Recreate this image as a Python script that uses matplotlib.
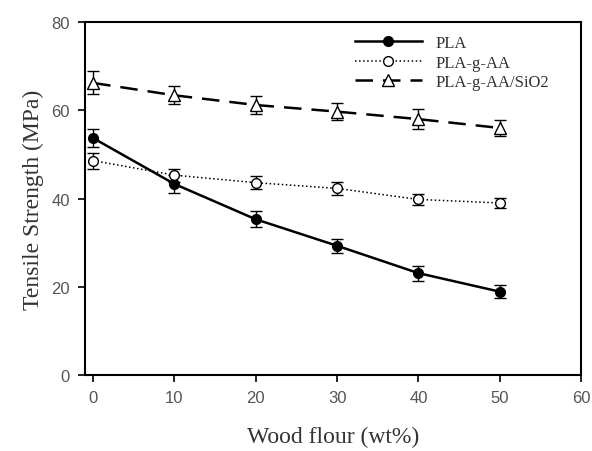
import matplotlib.pyplot as plt

plt.rcParams['font.family'] = 'Liberation Sans'

wood = [0, 10, 20, 30, 40, 50]
pla = [53.7, 43.3, 35.3, 29.3, 23.1, 18.9]
pla_err = [2.0, 2.0, 1.8, 1.6, 1.7, 1.5]
pla_aa = [48.6, 45.3, 43.6, 42.3, 39.8, 39.0]
pla_aa_err = [1.8, 1.5, 1.4, 1.5, 1.2, 1.2]
pla_si = [66.2, 63.4, 61.2, 59.7, 58.0, 56.0]
pla_si_err = [2.6, 2.0, 2.0, 2.0, 2.2, 1.8]

fig = plt.figure(figsize=(5.92, 4.52), dpi=100)
ax = fig.add_axes([0.1436, 0.168, 0.838, 0.781])

# error bars first, lines + markers on top (legend shows only lines)
for y, e in [(pla, pla_err), (pla_aa, pla_aa_err), (pla_si, pla_si_err)]:
    ax.errorbar(wood, y, yerr=e, fmt='none', ecolor='black', capsize=4, elinewidth=1)

ax.plot(wood, pla, '-o', color='black', lw=1.8, ms=7, mfc='black', label='PLA')
ax.plot(wood, pla_aa, ':o', color='black', lw=1.1, ms=7, mfc='white', label='PLA-g-AA')
ax.plot(wood, pla_si, '--^', color='black', lw=1.8, ms=8, mfc='white',
        dashes=(7, 4), label='PLA-g-AA/SiO2')

ax.set_xlim(-1, 60)
ax.set_ylim(0, 80)
ax.set_xticks(range(0, 61, 10))
ax.set_yticks(range(0, 81, 20))
ax.tick_params(direction='out', length=5, width=1.2, labelsize=12,
               labelcolor='#555555', pad=6)
for s in ax.spines.values():
    s.set_linewidth(1.5)

ax.set_xlabel('Wood flour (wt%)', family='Liberation Serif', fontsize=17,
              color='#333333', labelpad=15)
ax.set_ylabel('Tensile Strength (MPa)', family='Liberation Serif', fontsize=17,
              color='#333333', labelpad=5)

leg = ax.legend(loc='upper right', bbox_to_anchor=(0.965, 1.005), frameon=False,
                prop={'family': 'Liberation Serif', 'size': 12},
                handlelength=4.0, labelspacing=0.2, handletextpad=0.8)
for t in leg.get_texts():
    t.set_color('#333333')

fig.savefig('out.png', dpi=100)
